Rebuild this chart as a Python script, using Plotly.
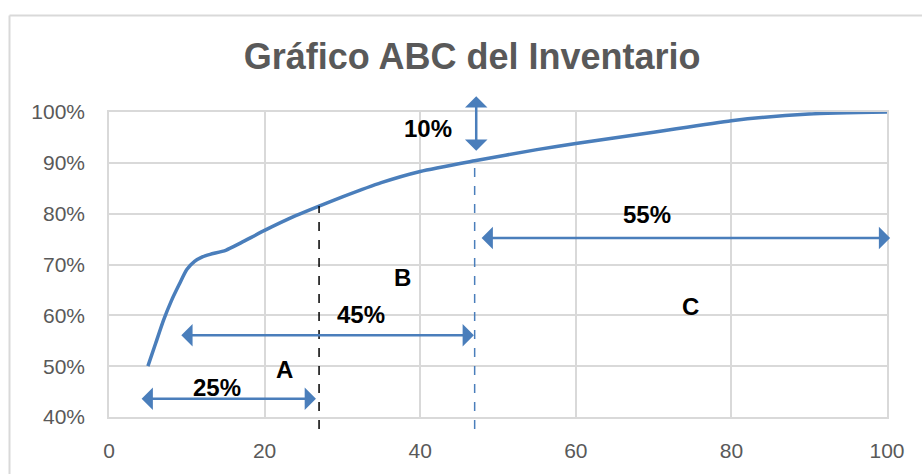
import plotly.graph_objects as go

# ---- data ----
pct_items = [5, 6, 7, 8, 9, 10, 11, 12, 13, 15, 17, 20, 24, 27, 30, 35, 40, 47, 55, 60, 70, 80, 90, 100]
pct_value = [0.50, 0.545, 0.59, 0.628, 0.66, 0.69, 0.706, 0.715, 0.72, 0.728, 0.743, 0.767, 0.796, 0.815,
             0.833, 0.861, 0.883, 0.904, 0.926, 0.938, 0.960, 0.983, 0.996, 1.0]
x_ticks = [0, 20, 40, 60, 80, 100]
y_ticks = [0.4, 0.5, 0.6, 0.7, 0.8, 0.9, 1.0]

cut_a = 27
cut_b = 47
cut_a_val = 0.815
cut_b_val = 0.904

# arrows: (x_start, y_start, x_end, y_end)
arrows = [
    (4.0, 0.436, 26.6, 0.436),
    (9.1, 0.561, 46.9, 0.561),
    (47.7, 0.752, 100.4, 0.752),
    (47.2, 1.034, 47.2, 0.924),
]
labels = ["25%", "A", "45%", "B", "10%", "55%", "C"]
label_x = [13.9, 22.6, 32.4, 37.7, 41.0, 69.2, 74.7]
label_y = [0.458, 0.493, 0.602, 0.674, 0.968, 0.799, 0.618]

BLUE = "#4a7ebb"
GRID = "#d9d9d9"
TXT = "#595959"
FONT = "Liberation Sans, Arial, sans-serif"

fig = go.Figure()
fig.add_trace(go.Scatter(x=pct_items, y=pct_value, mode="lines",
                         line=dict(color=BLUE, width=3.5, shape="spline", smoothing=0.6),
                         hoverinfo="skip", showlegend=False))

annotations = []
for (x0, y0, x1, y1) in arrows:
    annotations.append(dict(x=x1, y=y1, ax=x0, ay=y0, xref="x", yref="y", axref="x", ayref="y",
                            text="", showarrow=True, arrowhead=1, startarrowhead=1,
                            arrowside="end+start", arrowsize=1.5, startarrowsize=1.5,
                            arrowwidth=2.5, arrowcolor=BLUE, standoff=0, startstandoff=0))
for t, lx, ly in zip(labels, label_x, label_y):
    annotations.append(dict(x=lx, y=ly, xref="x", yref="y", text="<b>%s</b>" % t, showarrow=False,
                            font=dict(family=FONT, size=24, color="#000000")))

plot_l, plot_r, plot_t, plot_b = 109, 887, 112, 420
W, H = 922, 474
pw, ph = plot_r - plot_l, plot_b - plot_t

def px(xpix):
    return (xpix - plot_l) / pw

def py(ypix):
    return (plot_b - ypix) / ph

shapes = [
    dict(type="line", xref="x", yref="paper", x0=cut_a, x1=cut_a,
         y0=py(432), y1=(cut_a_val - 0.4) / 0.6, line=dict(color="#000000", width=1.5, dash="dash")),
    dict(type="line", xref="x", yref="paper", x0=cut_b, x1=cut_b,
         y0=py(432), y1=(cut_b_val - 0.4) / 0.6, line=dict(color=BLUE, width=1.5, dash="dash")),
    # outer chart frame
    dict(type="line", xref="paper", yref="paper", x0=px(9.5), x1=px(925), y0=py(14.5), y1=py(14.5),
         line=dict(color=GRID, width=2)),
    dict(type="line", xref="paper", yref="paper", x0=px(9.5), x1=px(9.5), y0=py(14.5), y1=py(480),
         line=dict(color=GRID, width=2)),
]

fig.update_layout(
    width=W, height=H,
    margin=dict(l=plot_l, r=W - plot_r, t=plot_t, b=H - plot_b),
    paper_bgcolor="white", plot_bgcolor="white",
    title=dict(text="<b>Gráfico ABC del Inventario</b>", x=0.512, xanchor="center",
               y=1 - 56 / H, yanchor="middle",
               font=dict(family=FONT, size=36, color=TXT)),
    xaxis=dict(range=[0, 100], tickvals=x_ticks, showgrid=True, gridcolor=GRID, gridwidth=1.5,
               showline=True, linecolor=GRID, linewidth=1.5, mirror=True, zeroline=False,
               ticks="", ticklabelstandoff=14,
               tickfont=dict(family=FONT, size=21, color=TXT)),
    yaxis=dict(range=[0.4, 1.0], tickvals=y_ticks, tickformat=".0%", showgrid=True, gridcolor=GRID,
               gridwidth=1.5, showline=True, linecolor=GRID, linewidth=1.5, mirror=True, zeroline=False,
               ticks="", ticklabelstandoff=18,
               tickfont=dict(family=FONT, size=21, color=TXT)),
    annotations=annotations, shapes=shapes,
)

fig.write_html("out.html")
